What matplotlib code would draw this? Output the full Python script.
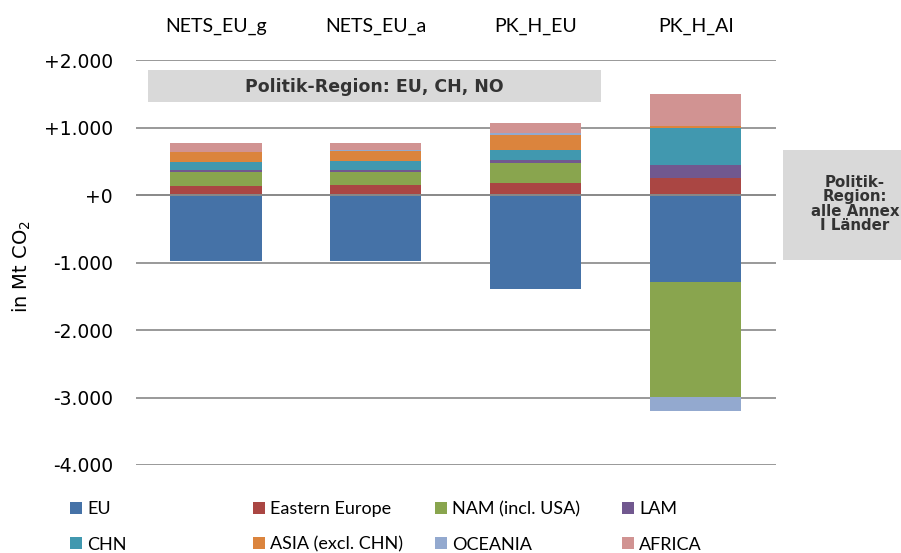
import numpy as np
import matplotlib
matplotlib.use("Agg")
import matplotlib.pyplot as plt
from matplotlib.patches import Rectangle
from matplotlib.ticker import FuncFormatter

# ---- data ----
categories = ["NETS_EU_g", "NETS_EU_a", "PK_H_EU", "PK_H_AI"]
series_names = ["EU", "Eastern Europe", "NAM (incl. USA)", "LAM",
                "CHN", "ASIA (excl. CHN)", "OCEANIA", "AFRICA"]
EU       = [-980, -980, -1390, -1290]
EASTEU   = [133, 158, 188, 262]
NAM      = [218, 193, 290, -1700]
LAM      = [25, 25, 50, 193]
CHN      = [123, 127, 148, 548]
ASIA     = [148, 148, 216, 20]
OCEANIA  = [0, 21, 35, -203]
AFRICA   = [129, 104, 148, 470]
series_values = [EU, EASTEU, NAM, LAM, CHN, ASIA, OCEANIA, AFRICA]
colors = ["#4572A7", "#AA4643", "#89A54E", "#71588F",
          "#4198AF", "#DB843D", "#93A9CF", "#D19392"]
yticks = [2000, 1000, 0, -1000, -2000, -3000, -4000]
box1_text = "Politik-Region: EU, CH, NO"
box2_text = "Politik-\nRegion:\nalle Annex\nI Länder"

plt.rcParams["font.family"] = ["DejaVu Sans"]
NARROW = "Lato"

W, H = 901, 553
fig = plt.figure(figsize=(W / 100, H / 100), dpi=100)
ax = fig.add_axes([136 / W, 1 - 465 / H, (775.7 - 136) / W, (465 - 60.3) / H])

x = np.arange(len(categories))
pos_bottom = np.zeros(len(categories))
neg_bottom = np.zeros(len(categories))
handles = []
for name, vals, col in zip(series_names, series_values, colors):
    v = np.array(vals, dtype=float)
    bottom = np.where(v >= 0, pos_bottom, neg_bottom)
    b = ax.bar(x, v, width=0.57, bottom=bottom, color=col, label=name,
               zorder=2, linewidth=0)
    handles.append(b)
    pos_bottom = pos_bottom + np.where(v >= 0, v, 0)
    neg_bottom = neg_bottom + np.where(v < 0, v, 0)

ax.set_xlim(-0.5, 3.5)
ax.set_ylim(-4000, 2000)
ax.set_yticks(yticks)
ax.yaxis.set_major_formatter(FuncFormatter(
    lambda v, p: "{:+,.0f}".format(v).replace(",", ".")))
for yv in yticks:
    if yv != 0:
        ax.axhline(yv, color="#888888", lw=1.2, zorder=1)
ax.axhline(0, color="#888888", lw=1.4, zorder=3)
for s in ax.spines.values():
    s.set_visible(False)

ax.set_xticks(x, categories, fontfamily=NARROW, fontsize=14)
ax.xaxis.tick_top()
ax.tick_params(axis="x", length=0, pad=18)
ax.tick_params(axis="y", length=0, pad=16.5, labelsize=13.5)
for lab in ax.get_yticklabels():
    lab.set_family("DejaVu Sans")

ax.set_ylabel("in Mt CO$_2$", fontsize=14, fontfamily="DejaVu Sans")
ax.yaxis.set_label_coords(-0.161, 0.49)

# box 1
ax.add_patch(Rectangle((-0.422, 1382), 2.831, 474, facecolor="#d9d9d9",
                       edgecolor="none", zorder=3))
ax.text(0.99, 1604, box1_text, ha="center", va="center", fontsize=12.5,
        fontweight="bold", color="#333333", zorder=4, fontfamily="DejaVu Sans")

# box 2 (figure coords)
fig.patches.append(Rectangle((783 / W, 1 - 260 / H), 1 - 783 / W, 110 / H,
                             transform=fig.transFigure, facecolor="#d9d9d9",
                             edgecolor="none"))
fig.text(855 / W, 1 - 204 / H, box2_text, ha="center", va="center",
         fontsize=10.8, fontweight="bold", color="#333333", linespacing=0.92,
         multialignment="center", fontfamily="DejaVu Sans")

# legend: 4 columns
col_x = [70, 253, 435, 622]
for c in range(4):
    hs = [handles[c], handles[c + 4]]
    ls = [series_names[c], series_names[c + 4]]
    leg = fig.legend(hs, ls, loc="upper left",
                     bbox_to_anchor=(col_x[c] / W, 1 - 501 / H),
                     bbox_transform=fig.transFigure, frameon=False,
                     borderpad=0, borderaxespad=0, handlelength=0.66,
                     handleheight=0.66, handletextpad=0.3, labelspacing=1.08,
                     prop={"family": NARROW, "size": 13})

fig.savefig("out.png", dpi=100)
